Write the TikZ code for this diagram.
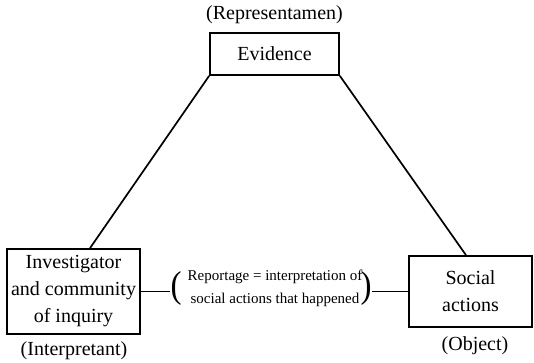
\documentclass[tikz,border=0pt]{standalone}
\usepackage{fontspec}
\setmainfont{Liberation Serif}
\usetikzlibrary{calc}
\begin{document}
\begin{tikzpicture}[x=1pt,y=-1pt,
  box/.style={draw,line width=1.7pt,inner sep=0pt,align=center,font=\fontsize{20}{27}\selectfont},
  lbl/.style={inner sep=0pt,font=\fontsize{20}{24}\selectfont},
  small/.style={inner sep=0pt,align=center,font=\fontsize{15}{23}\selectfont},
  par/.style={inner sep=0pt,font=\fontsize{30}{30}\selectfont},
  conn/.style={line width=1.7pt}]
\useasboundingbox (0,0) rectangle (534,363);
\node[box,minimum width=129pt,minimum height=42pt] (ev) at (274.5,54) {Evidence};
\node[box,minimum width=133pt,minimum height=85pt] (inv) at (73.5,291.5) {Investigator\\and community\\of inquiry};
\node[box,minimum width=123pt,minimum height=71pt] (soc) at (470.5,291.5) {Social\\actions};
\node[lbl] (rep) at (274.5,15) {(Representamen)};
\node[lbl] (int) at (74,351) {(Interpretant)};
\node[lbl] (obj) at (475,346) {(Object)};
\node[small] (rt) at (275,288.5) {Reportage = interpretation of\\social actions that happened};
\node[par] (lp) at (176,288) {\scalebox{1.1}[1.25]{(}};
\node[par] (rp) at (366,288) {\scalebox{1.1}[1.25]{)}};
\draw[conn] (ev.south west) -- ([xshift=16.5pt]inv.north);
\draw[conn] (ev.south east) -- ([xshift=-4.5pt]soc.north);
\draw[conn] (inv.east) -- (inv.east -| lp.west);
\draw[conn] (soc.west) -- (soc.west -| rp.east);
\end{tikzpicture}
\end{document}
